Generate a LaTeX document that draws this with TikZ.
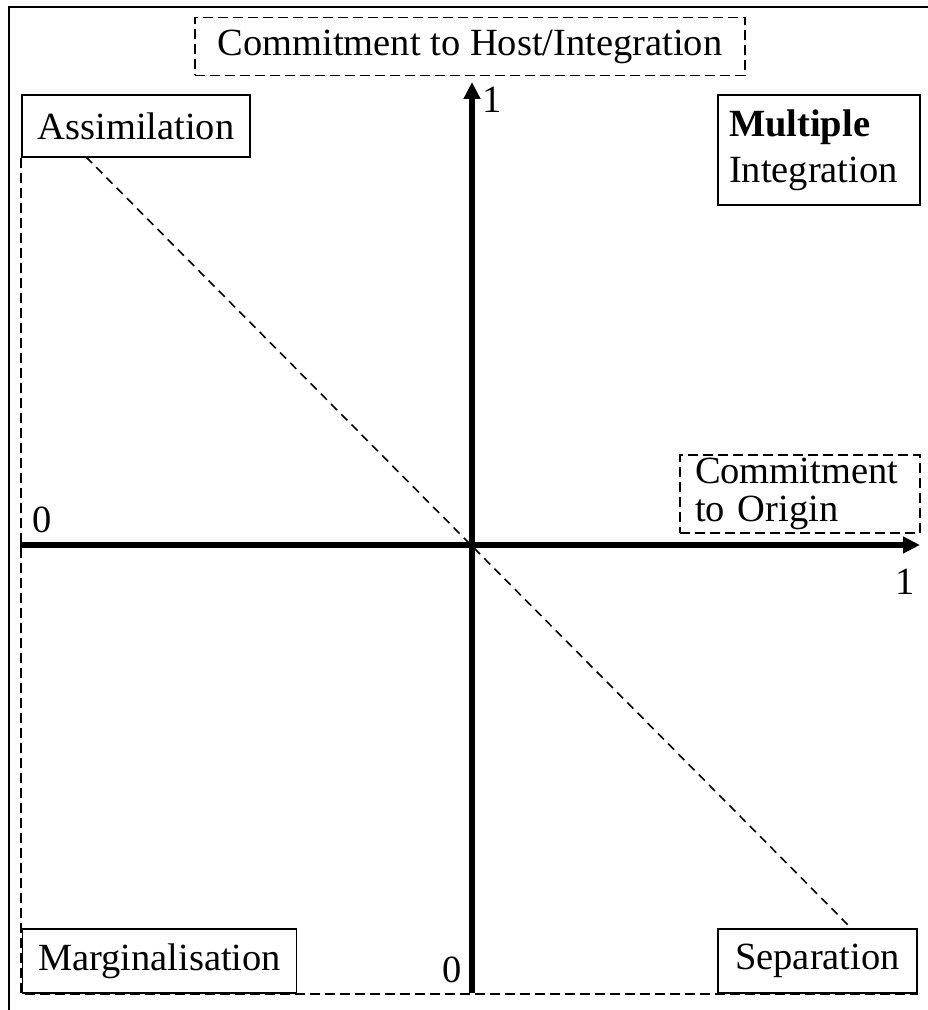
\documentclass[tikz,border=0pt]{standalone}
\usepackage{fontspec}
\setmainfont{Liberation Serif}
\usetikzlibrary{positioning, arrows.meta}

\newcommand{\quadfont}{\fontsize{21.9}{22}\selectfont}

\tikzset{
  quad/.style={draw, line width=1.1pt, inner sep=0pt, align=center, font=\quadfont},
  dashbox/.style={quad, dash pattern=on 0.2cm off 0.1cm},
  axislabel/.style={inner sep=0pt, font=\quadfont},
  axisline/.style={line width=3.4pt, -{Triangle[length=0.34cm,width=0.32cm]}},
  thindash/.style={line width=1.1pt, dash pattern=on 0.2cm off 0.1cm},
  diag/.style={line width=0.9pt, dash pattern=on 0.17cm off 0.12cm}
}

\begin{document}
\begin{tikzpicture}
  \useasboundingbox (0,0) rectangle (18.56,20.2);
  % outer frame
  \draw[line width=1.4pt] (0.18,0) -- (0.18,20.06) -- (18.56,20.06);

  % boxes
  \node[dashbox, minimum width=11cm, minimum height=1.16cm] (host) at (9.4,19.27) {Commitment to Host/Integration};
  \node[quad, minimum width=4.56cm, minimum height=1.24cm] (assim) at (2.72,17.68) {Assimilation};
  \node[quad, minimum width=4.04cm, minimum height=2.2cm, text width=3.6cm, align=left] (multi) at (16.38,17.2) {\textbf{Multiple}\\[0.14cm]Integration};
  \node[dashbox, minimum width=4.8cm, minimum height=1.56cm, text width=4.2cm, align=left] (origin) at (16,10.32) {Commitment\\to Origin};
  \node[quad, minimum width=5.48cm, minimum height=1.28cm] (marg) at (3.19,0.98) {Marginalisation};
  \node[quad, minimum width=3.98cm, minimum height=1.28cm] (sep) at (16.35,0.98) {Separation};

  % axes
  \coordinate (xl) at (0.4,9.3);
  \coordinate (xr) at (18.4,9.3);
  \coordinate (yb) at (9.44,0.34);
  \coordinate (yt) at (9.44,18.56);
  \draw[axisline] (xl) -- (xr);
  \draw[axisline] (yb) -- (yt);

  % dashed lines
  \coordinate (dtl) at (1.72,17.06);
  \coordinate (dbr) at (17.04,1.62);
  \draw[diag] (dtl) -- (dbr);
  \draw[thindash] (assim.south west) |- (sep.south east);

  % axis values
  \node[axislabel] (x0) at (0.84,9.8) {0};
  \node[axislabel] (x1) at (18.1,8.56) {1};
  \node[axislabel] (y1) at (9.84,18.2) {1};
  \node[axislabel] (y0) at (9.04,0.8) {0};
\end{tikzpicture}
\end{document}
